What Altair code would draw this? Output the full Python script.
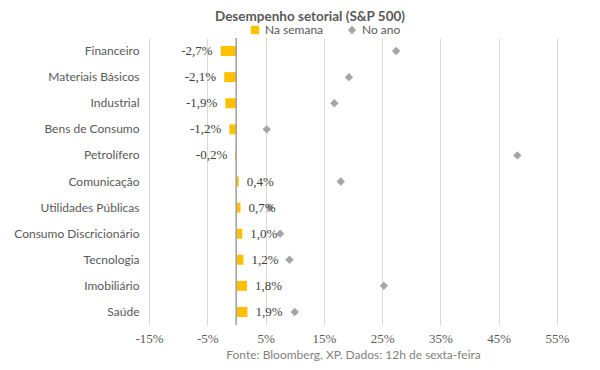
import altair as alt
import pandas as pd

categorias = ["Financeiro", "Materiais Básicos", "Industrial", "Bens de Consumo", "Petrolífero",
              "Comunicação", "Utilidades Públicas", "Consumo Discricionário", "Tecnologia",
              "Imobiliário", "Saúde"]
na_semana = [-2.7, -2.1, -1.9, -1.2, -0.2, 0.4, 0.7, 1.0, 1.2, 1.8, 1.9]
no_ano = [27.4, 19.3, 16.8, 5.2, 48.2, 17.9, 5.7, 7.5, 9.1, 25.3, 10.0]
x_ticks = [-15, -5, 5, 15, 25, 35, 45, 55]

df = pd.DataFrame({
    "setor": categorias,
    "semana": na_semana,
    "ano": no_ano,
})
df["rotulo"] = df["semana"].map(lambda v: f"{v:.1f}%".replace(".", ","))
df["s1"] = "Na semana"
df["s2"] = "No ano"

series_dom = ["Na semana", "No ano"]
color_scale = alt.Scale(domain=series_dom, range=["#FFC000", "#A5A5A5"])
shape_scale = alt.Scale(domain=series_dom, range=["square", "diamond"])

legend = alt.Legend(title=None, orient="none", direction="horizontal", legendX=100, legendY=-14,
                    labelFont="Lato", labelFontSize=12, labelColor="#595959", symbolSize=70,
                    columnPadding=22, labelOffset=4, symbolStrokeWidth=0)

y_enc = alt.Y("setor:N", sort=categorias, title=None,
              scale=alt.Scale(paddingInner=0, paddingOuter=0.0),
              axis=alt.Axis(labelFont="Lato", labelFontSize=12, labelColor="#595959",
                            labelPadding=10, domain=False, ticks=False, grid=False))
x_scale = alt.Scale(domain=[-15, 55], nice=False, zero=False)
x_enc = alt.X("semana:Q", scale=x_scale,
              title="Fonte: Bloomberg, XP. Dados: 12h de sexta-feira",
              axis=alt.Axis(values=x_ticks, labelExpr="datum.value + '%'", labelFlush=False,
                            labelFont="Liberation Serif", labelFontSize=13, labelColor="#595959",
                            labelPadding=7, domain=False, ticks=False, grid=True,
                            gridColor="#D9D9D9", titleFont="Lato", titleFontSize=12,
                            titleFontWeight="normal", titleColor="#7F7F7F", titlePadding=4))

base = alt.Chart(df)

zero = base.mark_rule(color="#A6A6A6", strokeWidth=1).encode(x=alt.datum(0))

bars = base.mark_bar(size=10).encode(
    x=x_enc,
    x2=alt.datum(0),
    y=y_enc,
    color=alt.Color("s1:N", scale=color_scale, legend=legend),
)

pts = base.mark_point(filled=True, size=70, opacity=1).encode(
    x=alt.X("ano:Q", scale=x_scale),
    y=alt.Y("setor:N", sort=categorias),
    color=alt.Color("s2:N", scale=color_scale, legend=legend),
    shape=alt.Shape("s2:N", scale=shape_scale, legend=legend),
)

lbl_neg = base.transform_filter("datum.semana < 0").mark_text(
    align="right", baseline="middle", dx=-8, font="Liberation Serif", fontSize=13, color="#404040"
).encode(x=alt.X("semana:Q", scale=x_scale), y=alt.Y("setor:N", sort=categorias), text="rotulo:N")

lbl_pos = base.transform_filter("datum.semana >= 0").mark_text(
    align="left", baseline="middle", dx=8, font="Liberation Serif", fontSize=13, color="#404040"
).encode(x=alt.X("semana:Q", scale=x_scale), y=alt.Y("setor:N", sort=categorias), text="rotulo:N")

chart = alt.layer(bars, zero, pts, lbl_neg, lbl_pos).resolve_scale(color="shared").properties(
    width=408, height=287,
    autosize=alt.AutoSizeParams(type="none"),
    padding={"left": 141, "top": 30, "right": 35, "bottom": 37},
    title=alt.TitleParams("Desempenho setorial (S&P 500)", font="Lato", fontSize=13.5,
                          fontWeight="bold", color="#595959", anchor="middle", dx=-43, offset=1),
).configure_view(stroke=None)

chart.save("out.html", embed_options={"renderer": "svg", "actions": False})
